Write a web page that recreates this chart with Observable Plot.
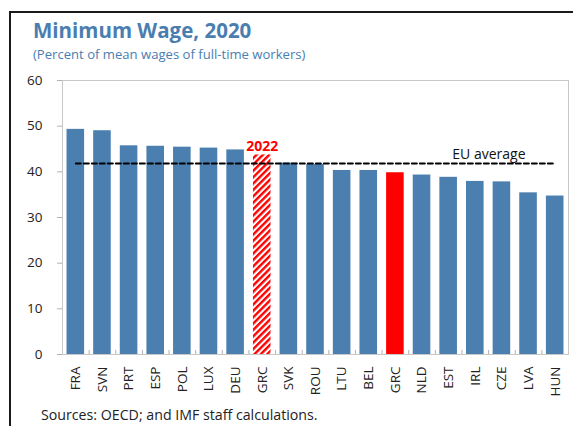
<!DOCTYPE html>
<html>
<head>
<meta charset="utf-8">
<script src="https://cdn.jsdelivr.net/npm/d3@7"></script>
<script src="https://cdn.jsdelivr.net/npm/@observablehq/plot@0.6"></script>
<style>
  html, body { margin: 0; padding: 0; background: #fff; }
  body { width: 573px; height: 426px; position: relative; overflow: hidden; font-family: "Open Sans", sans-serif; }
  .frame { position: absolute; left: 9px; top: 11px; width: 700px; height: 600px; border-left: 2px solid #1a1a1a; border-top: 2px solid #1a1a1a; }
  .title { position: absolute; left: 33px; top: 20px; font-size: 20.5px; line-height: 1; font-weight: 700; color: #4a7eb0; white-space: nowrap; }
  .subtitle { position: absolute; left: 33px; top: 48px; font-size: 13.1px; line-height: 1; color: #4a7eb0; white-space: nowrap; }
  .caption { position: absolute; left: 41px; top: 408px; font-size: 14.2px; line-height: 1; color: #222; white-space: nowrap; }
  #chart { position: absolute; left: 0; top: 66px; }
</style>
</head>
<body>
<div class="frame"></div>
<div class="title">Minimum Wage, 2020</div>
<div class="subtitle">(Percent of mean wages of full-time workers)</div>
<div id="chart"></div>
<div class="caption">Sources: OECD; and IMF staff calculations.</div>
<script>
const countries = ["FRA","SVN","PRT","ESP","POL","LUX","DEU","GRC","SVK","ROU","LTU","BEL","GRC","NLD","EST","IRL","CZE","LVA","HUN"];
const values = [49.3, 49.0, 45.7, 45.6, 45.4, 45.2, 44.8, 43.7, 41.9, 41.6, 40.3, 40.3, 39.8, 39.3, 38.8, 37.9, 37.8, 35.4, 34.7];
const years = [2020, 2020, 2020, 2020, 2020, 2020, 2020, 2022, 2020, 2020, 2020, 2020, 2020, 2020, 2020, 2020, 2020, 2020, 2020];
const highlight = ["", "", "", "", "", "", "", "", "", "", "", "", "GRC", "", "", "", "", "", ""];
const euAverage = 41.8;
const euLabel = "EU average";
const yTicks = [0, 10, 20, 30, 40, 50, 60];

const keys = countries.map((c, i) => i);
const blue = "#4a7fb0";
const red = "#ff0000";

const plot = Plot.plot({
  width: 573,
  height: 340,
  marginLeft: 62,
  marginRight: 5,
  marginTop: 14,
  marginBottom: 52,
  style: { background: "transparent", fontFamily: "Open Sans, sans-serif", fontSize: "13px", color: "#222" },
  x: { type: "band", domain: keys, paddingInner: 0.34, paddingOuter: 0.17, round: false },
  y: { domain: [0, 60] },
  marks: [
    Plot.frame({ stroke: "#c8c8c8" }),
    Plot.barY(keys, { filter: i => years[i] === 2020 && highlight[i] === "", x: i => i, y: i => values[i], fill: blue }),
    Plot.barY(keys, { filter: i => highlight[i] !== "", x: i => i, y: i => values[i], fill: red }),
    Plot.barY(keys, { filter: i => years[i] === 2022, x: i => i, y: i => values[i], fill: "url(#hatch)" }),
    Plot.line(keys, { x: i => i, y: () => euAverage, stroke: "#000", strokeWidth: 2, strokeDasharray: "5,3" }),
    Plot.text(keys, { filter: i => years[i] === 2022, x: i => i, y: i => values[i], text: i => String(years[i]), fill: red, fontWeight: "bold", fontSize: 14, lineAnchor: "bottom", dy: -4 }),
    Plot.text([euLabel], { x: () => keys[16], y: () => euAverage, text: d => d, fill: "#111", fontSize: 14, lineAnchor: "bottom", dy: -5, dx: -13 }),
    Plot.axisY({ ticks: yTicks, tickSize: 5, tickPadding: 15, stroke: "#b0b0b0", fill: "#222", fontSize: 13.5, label: null }),
    Plot.axisX({ tickSize: 0, tickPadding: 12, tickRotate: -90, tickFormat: i => countries[i], fill: "#222", fontSize: 13.5, label: null }),
    Plot.axisX({ ticks: keys.slice(1), tickSize: -4, text: null, stroke: "#b0b0b0", dx: -13.3, label: null })
  ]
});

const ns = "http://www.w3.org/2000/svg";
const svg = plot.tagName.toLowerCase() === "svg" ? plot : plot.querySelector("svg");
const defs = document.createElementNS(ns, "defs");
defs.innerHTML = '<pattern id="hatch" patternUnits="userSpaceOnUse" width="4.5" height="4.5" patternTransform="rotate(45)"><rect width="4.5" height="4.5" fill="#fff"/><rect width="2.4" height="4.5" fill="#ff0000"/></pattern>';
svg.insertBefore(defs, svg.firstChild);
document.getElementById("chart").appendChild(plot);
</script>
</body>
</html>
